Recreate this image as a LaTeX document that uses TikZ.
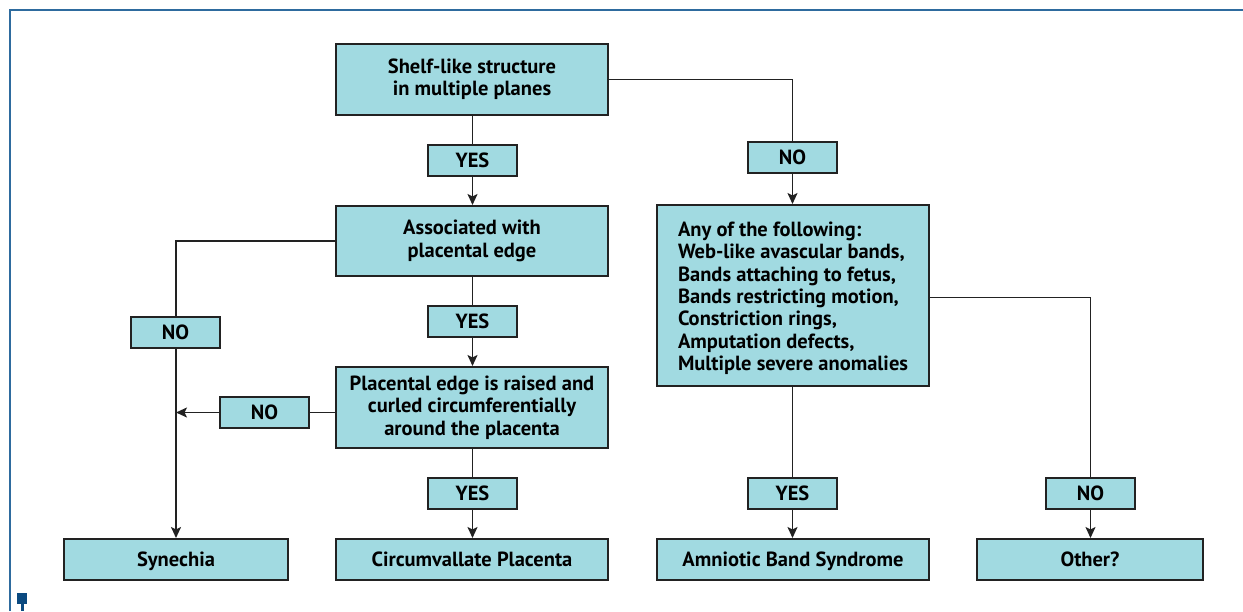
\documentclass[tikz,border=0pt]{standalone}
\usepackage{fontspec}
\setmainfont{PT Sans}
\usetikzlibrary{arrows.meta}
\definecolor{boxfill}{HTML}{A1DAE1}
\definecolor{boxline}{HTML}{222222}
\definecolor{frameblue}{HTML}{2E6B9E}
\definecolor{markblue}{HTML}{0B4A80}
\begin{document}
\begin{tikzpicture}[x=1pt,y=-1pt,
  base/.style={draw=boxline, fill=boxfill, line width=2pt, inner sep=0pt,
    font=\fontsize{20.5}{22.3}\selectfont\bfseries, text=black},
  bigbox/.style={base, minimum width=272pt, align=center},
  endbox/.style={base, minimum height=41pt, text height=14.5pt, text depth=0pt},
  labbox/.style={base, minimum width=89pt, minimum height=31pt, text height=14.5pt, text depth=0pt},
  conn/.style={draw=boxline, line width=1.9pt},
  arr/.style={conn, -{Stealth[length=11pt,width=10pt,inset=2.5pt]}}
]
\useasboundingbox (0,0) rectangle (1243,611);
\fill[white] (0,0) rectangle (1243,611);
% frame
\draw[frameblue, line width=2.5pt] (10,611) -- (10,10) -- (1243,10);
\fill[markblue] (17,593) rectangle (27,604);
\fill[markblue] (21,604) rectangle (23.5,611);

% main boxes
\node[bigbox, minimum height=71pt] (shelf) at (472,79.5) {Shelf-like structure\\in multiple planes};
\node[labbox] (yes1) at (472.5,160) {YES};
\node[bigbox, minimum height=70pt] (assoc) at (472,241) {Associated with\\placental edge};
\node[labbox] (yes2) at (472.5,321.5) {YES};
\node[bigbox, minimum height=81pt] (raised) at (472,407.5) {Placental edge is raised and\\curled circumferentially\\around the placenta};
\node[labbox] (yes3) at (472.5,493.5) {YES};
\node[endbox, minimum width=272pt] (circ) at (472,559.5) {Circumvallate Placenta};

\node[labbox] (no2) at (264.5,412.5) {NO};
\node[labbox] (no1) at (175.5,332.5) {NO};
\node[endbox, minimum width=224pt] (syn) at (176,559.5) {Synechia};

\node[labbox] (no0) at (792.5,157) {NO};
\node[base, minimum width=272pt, minimum height=181pt] (any) at (793,295.5) {};
\node[base, draw=none, fill=none, anchor=north west, align=left] (anytext) at (677,221)
  {Any of the following:\\Web-like avascular bands,\\Bands attaching to fetus,\\Bands restricting motion,\\Constriction rings,\\Amputation defects,\\Multiple severe anomalies};
\node[labbox] (yes4) at (792.5,493.5) {YES};
\node[endbox, minimum width=272pt] (amn) at (793,559.5) {Amniotic Band Syndrome};
\node[labbox] (no3) at (1090.5,493.5) {NO};
\node[endbox, minimum width=226pt] (other) at (1090,559.5) {Other?};

\coordinate (c1) at (792.5,79.5);
\coordinate (c2) at (176,241);
\coordinate (c3) at (176,412.5);
\coordinate (c4) at (1090.5,297.5);

% connectors
\draw[conn] (shelf.south -| yes1) -- (yes1.north);
\draw[arr] (yes1.south) -- (yes1.south |- assoc.north);
\draw[conn] (shelf.east) -- (c1) -- (no0.north);
\draw[arr] (no0.south) -- (no0.south |- any.north);
\draw[conn] (assoc.west) -- (c2) -- (c2 |- no1.north);
\draw[arr] (c2 |- no1.south) -- (c2 |- syn.north);
\draw[conn] (assoc.south -| yes2) -- (yes2.north);
\draw[arr] (yes2.south) -- (yes2.south |- raised.north);
\draw[conn] (raised.west |- no2) -- (no2.east);
\draw[arr] (no2.west) -- (c3);
\draw[conn] (raised.south -| yes3) -- (yes3.north);
\draw[arr] (yes3.south) -- (yes3.south |- circ.north);
\draw[conn] (any.east |- c4) -- (c4) -- (no3.north);
\draw[arr] (no3.south) -- (no3.south |- other.north);
\draw[conn] (any.south -| yes4) -- (yes4.north);
\draw[arr] (yes4.south) -- (yes4.south |- amn.north);
\end{tikzpicture}
\end{document}
